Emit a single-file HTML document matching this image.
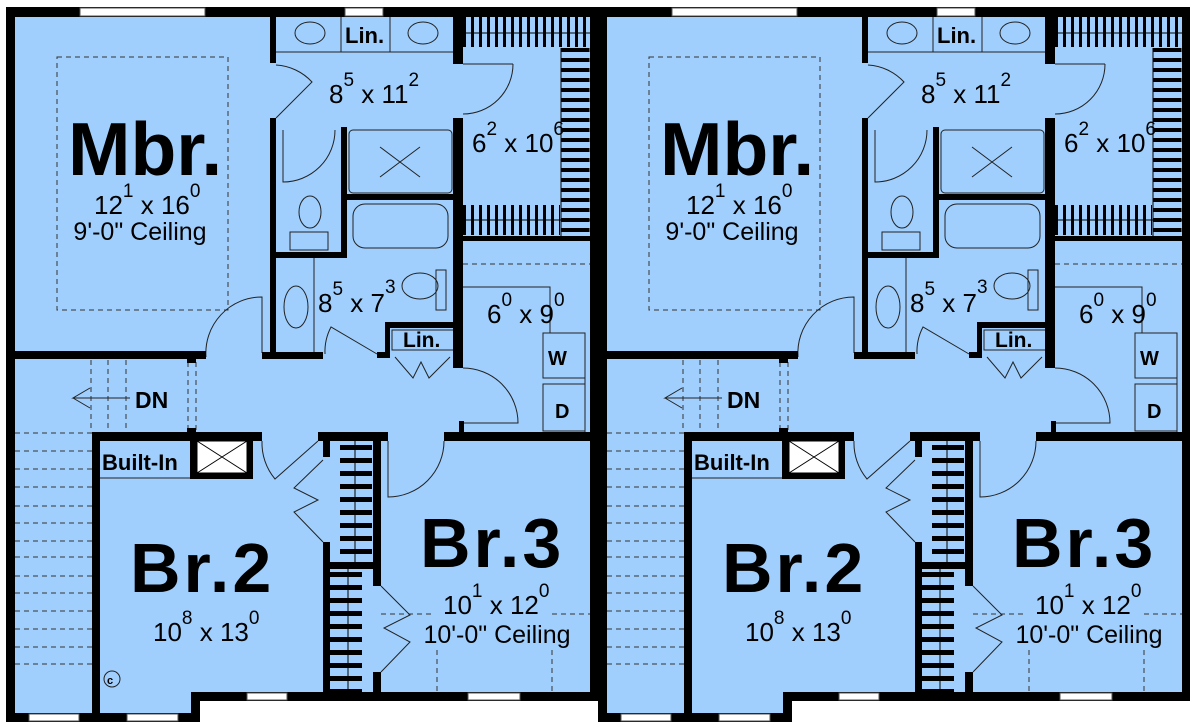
<!DOCTYPE html>
<html><head><meta charset="utf-8"><style>
html,body{margin:0;padding:0;background:#fff;}
svg{display:block;}
text{font-family:"Liberation Sans",Arial,sans-serif;fill:#000;}
.b{font-weight:bold;}
</style></head><body>
<svg width="1200" height="728" viewBox="0 0 1200 728" xmlns="http://www.w3.org/2000/svg">
<g>
<rect x="6" y="7" width="592" height="694" fill="#a0cffd"/>
<rect x="6" y="700" width="194" height="22" fill="#a0cffd"/>
<g stroke="#000">
<line x1="463" y1="32" x2="590" y2="32" stroke-width="30" stroke-dasharray="3 5"/>
<line x1="463" y1="220" x2="560" y2="220" stroke-width="30" stroke-dasharray="3 5"/>
<line x1="575" y1="48" x2="575" y2="236" stroke-width="29" stroke-dasharray="4 6"/>
<line x1="356" y1="445" x2="356" y2="560" stroke-width="32" stroke-dasharray="5 8"/>
<line x1="346" y1="572" x2="346" y2="692" stroke-width="32" stroke-dasharray="5 8"/>
</g>
<g stroke="#000" stroke-width="1" fill="none">
<line x1="463" y1="33" x2="590" y2="33"/><line x1="463" y1="220" x2="590" y2="220"/><line x1="561" y1="48" x2="561" y2="236"/>
<line x1="355" y1="441" x2="355" y2="562"/><line x1="348" y1="569" x2="348" y2="692"/>
</g>
<g stroke="#333" stroke-width="1" fill="none" stroke-dasharray="5 4">
<rect x="57" y="57" width="171" height="253"/>
<line x1="463" y1="264" x2="590" y2="264"/>
<line x1="381" y1="614" x2="432" y2="614"/><line x1="552" y1="614" x2="590" y2="614"/>
<line x1="437" y1="650" x2="437" y2="692"/><line x1="552" y1="650" x2="552" y2="692"/>
<line x1="188" y1="362" x2="188" y2="432"/><line x1="196" y1="362" x2="196" y2="432"/>
<line x1="91" y1="360" x2="91" y2="432"/><line x1="108" y1="360" x2="108" y2="432"/><line x1="126" y1="360" x2="126" y2="432"/>
<line x1="15" y1="433" x2="92" y2="433"/><line x1="15" y1="451" x2="92" y2="451"/><line x1="15" y1="469" x2="92" y2="469"/><line x1="15" y1="487" x2="92" y2="487"/><line x1="15" y1="506" x2="92" y2="506"/><line x1="15" y1="523" x2="92" y2="523"/><line x1="15" y1="541" x2="92" y2="541"/><line x1="15" y1="557" x2="92" y2="557"/><line x1="15" y1="576" x2="92" y2="576"/><line x1="15" y1="593" x2="92" y2="593"/><line x1="15" y1="611" x2="92" y2="611"/><line x1="15" y1="629" x2="92" y2="629"/><line x1="15" y1="647" x2="92" y2="647"/><line x1="15" y1="664" x2="92" y2="664"/>
</g>
<g stroke="#222" stroke-width="1" fill="none">
<line x1="276" y1="52" x2="453" y2="52"/><line x1="341" y1="17" x2="341" y2="52"/><line x1="390" y1="17" x2="390" y2="52"/>
<ellipse cx="310" cy="33" rx="15" ry="11"/><ellipse cx="423" cy="33" rx="15" ry="11"/>
<rect x="349" y="130" width="103" height="63" rx="4"/>
<line x1="380" y1="147" x2="420" y2="177"/><line x1="420" y1="147" x2="380" y2="177"/>
<rect x="353" y="204" width="95" height="44" rx="12"/>
<ellipse cx="310" cy="212" rx="11" ry="16"/><rect x="290" y="232" width="38" height="18"/>
<line x1="314" y1="258" x2="314" y2="353"/>
<ellipse cx="296" cy="307" rx="12" ry="21"/>
<ellipse cx="420" cy="286" rx="18" ry="13"/><rect x="436" y="270" width="10" height="40"/>
<rect x="392" y="330" width="63" height="20"/>
<line x1="100" y1="478" x2="190" y2="478"/>
<polyline points="463,287 550,287 550,333"/>
<rect x="543" y="333" width="42" height="45"/><rect x="543" y="384" width="42" height="47"/>
<line x1="585" y1="333" x2="585" y2="432"/>
<circle cx="112" cy="679" r="8"/>
<path d="M206,357 A56,56 0 0 1 262,297 L262,353"/>
<path d="M276,65 A53,53 0 0 1 312,82 L276,118"/>
<path d="M513,64 A50,50 0 0 1 463,114 M463,64 L513,64"/>
<path d="M283,130 L283,182 A52,52 0 0 0 335,130"/>
<path d="M325,354 A53,53 0 0 1 331,327 L377,354"/>
<polyline points="395,357 413,378 421,362 429,378 450,357"/>
<path d="M463,368 A55,55 0 0 1 518,423 L463,423"/>
<path d="M444,441 A56,56 0 0 1 388,497 L388,441"/>
<path d="M262,441 A56,56 0 0 0 275,479 L318,441"/>
<polyline points="323,460 294,488 318,500 294,512 323,542"/>
<polyline points="381,586 410,615 384,628 410,642 381,672"/>
<path d="M130,398 L73,398 L90,388 M73,398 L90,408"/>
</g>
<g fill="#000">
<rect x="6" y="7" width="592" height="10"/>
<rect x="6" y="7" width="9" height="715"/>
<rect x="6" y="713" width="194" height="9"/>
<rect x="191" y="692" width="9" height="30"/>
<rect x="191" y="692" width="407" height="9"/>
<rect x="590" y="7" width="8" height="694"/>
<rect x="15" y="351" width="191" height="8"/>
<rect x="187" y="359" width="9" height="4"/><rect x="187" y="428" width="9" height="5"/>
<rect x="270" y="17" width="6" height="46"/>
<rect x="270" y="118" width="6" height="239"/>
<rect x="262" y="352" width="61" height="7"/>
<rect x="341" y="127" width="6" height="131"/>
<rect x="270" y="252" width="77" height="6"/>
<rect x="346" y="194" width="107" height="6"/>
<rect x="453" y="17" width="10" height="47"/>
<rect x="453" y="118" width="10" height="250"/>
<rect x="463" y="236" width="135" height="5"/>
<rect x="385" y="322" width="5" height="36"/>
<rect x="385" y="322" width="73" height="6"/>
<rect x="377" y="352" width="13" height="6"/>
<rect x="459" y="421" width="5" height="15"/>
<rect x="93" y="432" width="169" height="9"/>
<rect x="318" y="432" width="70" height="9"/>
<rect x="444" y="432" width="154" height="9"/>
<rect x="92" y="432" width="8" height="290"/>
<rect x="190" y="434" width="63" height="45"/>
<rect x="323" y="432" width="7" height="25"/>
<rect x="323" y="542" width="7" height="158"/>
<rect x="373" y="432" width="8" height="154"/>
<rect x="373" y="672" width="8" height="28"/>
<rect x="330" y="562" width="43" height="7"/>
</g>
<rect x="197" y="441" width="50" height="32" fill="#fff" stroke="#000" stroke-width="1"/>
<path d="M197,441 L247,473 M247,441 L197,473" stroke="#000" stroke-width="1"/>
<g fill="#fff" stroke="#555" stroke-width="1">
<rect x="80" y="8" width="125" height="8"/><rect x="345" y="8" width="38" height="8"/>
<rect x="29" y="714" width="50" height="7"/><rect x="127" y="714" width="51" height="7"/>
<rect x="247" y="693" width="40" height="7"/><rect x="468" y="693" width="52" height="7"/>
</g>
<text x="68" y="175" class="b" font-size="75">Mbr.</text>
<text x="94" y="214" font-size="26">12<tspan dy="-17" font-size="19">1</tspan><tspan dy="17"> x 16</tspan><tspan dy="-17" font-size="19">0</tspan></text>
<text x="140" y="240" font-size="25" text-anchor="middle">9'-0" Ceiling</text>
<text x="345" y="43" font-size="22" class="b">Lin.</text>
<text x="329" y="103" font-size="26">8<tspan dy="-17" font-size="19">5</tspan><tspan dy="17"> x 11</tspan><tspan dy="-17" font-size="19">2</tspan></text>
<text x="472" y="152" font-size="26">6<tspan dy="-17" font-size="19">2</tspan><tspan dy="17"> x 10</tspan><tspan dy="-17" font-size="19">6</tspan></text>
<text x="318" y="312" font-size="26">8<tspan dy="-17" font-size="19">5</tspan><tspan dy="17"> x 7</tspan><tspan dy="-19" font-size="19">3</tspan></text>
<text x="403" y="347" font-size="21" class="b">Lin.</text>
<text x="487" y="323" font-size="26">6<tspan dy="-17" font-size="19">0</tspan><tspan dy="17"> x 9</tspan><tspan dy="-17" font-size="19">0</tspan></text>
<text x="548" y="365" font-size="20" class="b">W</text><text x="555" y="418" font-size="20" class="b">D</text>
<text x="135" y="408" font-size="23" class="b">DN</text>
<text x="102" y="470" font-size="22" class="b">Built-In</text>
<text x="107" y="684" font-size="11" class="b">c</text>
<text x="130" y="592" font-size="70" class="b" letter-spacing="3">Br.2</text>
<text x="153" y="641" font-size="26">10<tspan dy="-17" font-size="19">8</tspan><tspan dy="17"> x 13</tspan><tspan dy="-17" font-size="19">0</tspan></text>
<text x="420" y="567" font-size="70" class="b" letter-spacing="3">Br.3</text>
<text x="443" y="614" font-size="26">10<tspan dy="-17" font-size="19">1</tspan><tspan dy="17"> x 12</tspan><tspan dy="-17" font-size="19">0</tspan></text>
<text x="497" y="643" font-size="25" text-anchor="middle">10'-0" Ceiling</text>
</g>
<g transform="translate(592,0)">
<rect x="6" y="7" width="592" height="694" fill="#a0cffd"/>
<rect x="6" y="700" width="194" height="22" fill="#a0cffd"/>
<g stroke="#000">
<line x1="463" y1="32" x2="590" y2="32" stroke-width="30" stroke-dasharray="3 5"/>
<line x1="463" y1="220" x2="560" y2="220" stroke-width="30" stroke-dasharray="3 5"/>
<line x1="575" y1="48" x2="575" y2="236" stroke-width="29" stroke-dasharray="4 6"/>
<line x1="356" y1="445" x2="356" y2="560" stroke-width="32" stroke-dasharray="5 8"/>
<line x1="346" y1="572" x2="346" y2="692" stroke-width="32" stroke-dasharray="5 8"/>
</g>
<g stroke="#000" stroke-width="1" fill="none">
<line x1="463" y1="33" x2="590" y2="33"/><line x1="463" y1="220" x2="590" y2="220"/><line x1="561" y1="48" x2="561" y2="236"/>
<line x1="355" y1="441" x2="355" y2="562"/><line x1="348" y1="569" x2="348" y2="692"/>
</g>
<g stroke="#333" stroke-width="1" fill="none" stroke-dasharray="5 4">
<rect x="57" y="57" width="171" height="253"/>
<line x1="463" y1="264" x2="590" y2="264"/>
<line x1="381" y1="614" x2="432" y2="614"/><line x1="552" y1="614" x2="590" y2="614"/>
<line x1="437" y1="650" x2="437" y2="692"/><line x1="552" y1="650" x2="552" y2="692"/>
<line x1="188" y1="362" x2="188" y2="432"/><line x1="196" y1="362" x2="196" y2="432"/>
<line x1="91" y1="360" x2="91" y2="432"/><line x1="108" y1="360" x2="108" y2="432"/><line x1="126" y1="360" x2="126" y2="432"/>
<line x1="15" y1="433" x2="92" y2="433"/><line x1="15" y1="451" x2="92" y2="451"/><line x1="15" y1="469" x2="92" y2="469"/><line x1="15" y1="487" x2="92" y2="487"/><line x1="15" y1="506" x2="92" y2="506"/><line x1="15" y1="523" x2="92" y2="523"/><line x1="15" y1="541" x2="92" y2="541"/><line x1="15" y1="557" x2="92" y2="557"/><line x1="15" y1="576" x2="92" y2="576"/><line x1="15" y1="593" x2="92" y2="593"/><line x1="15" y1="611" x2="92" y2="611"/><line x1="15" y1="629" x2="92" y2="629"/><line x1="15" y1="647" x2="92" y2="647"/><line x1="15" y1="664" x2="92" y2="664"/>
</g>
<g stroke="#222" stroke-width="1" fill="none">
<line x1="276" y1="52" x2="453" y2="52"/><line x1="341" y1="17" x2="341" y2="52"/><line x1="390" y1="17" x2="390" y2="52"/>
<ellipse cx="310" cy="33" rx="15" ry="11"/><ellipse cx="423" cy="33" rx="15" ry="11"/>
<rect x="349" y="130" width="103" height="63" rx="4"/>
<line x1="380" y1="147" x2="420" y2="177"/><line x1="420" y1="147" x2="380" y2="177"/>
<rect x="353" y="204" width="95" height="44" rx="12"/>
<ellipse cx="310" cy="212" rx="11" ry="16"/><rect x="290" y="232" width="38" height="18"/>
<line x1="314" y1="258" x2="314" y2="353"/>
<ellipse cx="296" cy="307" rx="12" ry="21"/>
<ellipse cx="420" cy="286" rx="18" ry="13"/><rect x="436" y="270" width="10" height="40"/>
<rect x="392" y="330" width="63" height="20"/>
<line x1="100" y1="478" x2="190" y2="478"/>
<polyline points="463,287 550,287 550,333"/>
<rect x="543" y="333" width="42" height="45"/><rect x="543" y="384" width="42" height="47"/>
<line x1="585" y1="333" x2="585" y2="432"/>
<path d="M206,357 A56,56 0 0 1 262,297 L262,353"/>
<path d="M276,65 A53,53 0 0 1 312,82 L276,118"/>
<path d="M513,64 A50,50 0 0 1 463,114 M463,64 L513,64"/>
<path d="M283,130 L283,182 A52,52 0 0 0 335,130"/>
<path d="M325,354 A53,53 0 0 1 331,327 L377,354"/>
<polyline points="395,357 413,378 421,362 429,378 450,357"/>
<path d="M463,368 A55,55 0 0 1 518,423 L463,423"/>
<path d="M444,441 A56,56 0 0 1 388,497 L388,441"/>
<path d="M262,441 A56,56 0 0 0 275,479 L318,441"/>
<polyline points="323,460 294,488 318,500 294,512 323,542"/>
<polyline points="381,586 410,615 384,628 410,642 381,672"/>
<path d="M130,398 L73,398 L90,388 M73,398 L90,408"/>
</g>
<g fill="#000">
<rect x="6" y="7" width="592" height="10"/>
<rect x="6" y="7" width="9" height="715"/>
<rect x="6" y="713" width="194" height="9"/>
<rect x="191" y="692" width="9" height="30"/>
<rect x="191" y="692" width="407" height="9"/>
<rect x="590" y="7" width="8" height="694"/>
<rect x="15" y="351" width="191" height="8"/>
<rect x="187" y="359" width="9" height="4"/><rect x="187" y="428" width="9" height="5"/>
<rect x="270" y="17" width="6" height="46"/>
<rect x="270" y="118" width="6" height="239"/>
<rect x="262" y="352" width="61" height="7"/>
<rect x="341" y="127" width="6" height="131"/>
<rect x="270" y="252" width="77" height="6"/>
<rect x="346" y="194" width="107" height="6"/>
<rect x="453" y="17" width="10" height="47"/>
<rect x="453" y="118" width="10" height="250"/>
<rect x="463" y="236" width="135" height="5"/>
<rect x="385" y="322" width="5" height="36"/>
<rect x="385" y="322" width="73" height="6"/>
<rect x="377" y="352" width="13" height="6"/>
<rect x="459" y="421" width="5" height="15"/>
<rect x="93" y="432" width="169" height="9"/>
<rect x="318" y="432" width="70" height="9"/>
<rect x="444" y="432" width="154" height="9"/>
<rect x="92" y="432" width="8" height="290"/>
<rect x="190" y="434" width="63" height="45"/>
<rect x="323" y="432" width="7" height="25"/>
<rect x="323" y="542" width="7" height="158"/>
<rect x="373" y="432" width="8" height="154"/>
<rect x="373" y="672" width="8" height="28"/>
<rect x="330" y="562" width="43" height="7"/>
</g>
<rect x="197" y="441" width="50" height="32" fill="#fff" stroke="#000" stroke-width="1"/>
<path d="M197,441 L247,473 M247,441 L197,473" stroke="#000" stroke-width="1"/>
<g fill="#fff" stroke="#555" stroke-width="1">
<rect x="80" y="8" width="125" height="8"/><rect x="345" y="8" width="38" height="8"/>
<rect x="29" y="714" width="50" height="7"/><rect x="127" y="714" width="51" height="7"/>
<rect x="247" y="693" width="40" height="7"/><rect x="468" y="693" width="52" height="7"/>
</g>
<text x="68" y="175" class="b" font-size="75">Mbr.</text>
<text x="94" y="214" font-size="26">12<tspan dy="-17" font-size="19">1</tspan><tspan dy="17"> x 16</tspan><tspan dy="-17" font-size="19">0</tspan></text>
<text x="140" y="240" font-size="25" text-anchor="middle">9'-0" Ceiling</text>
<text x="345" y="43" font-size="22" class="b">Lin.</text>
<text x="329" y="103" font-size="26">8<tspan dy="-17" font-size="19">5</tspan><tspan dy="17"> x 11</tspan><tspan dy="-17" font-size="19">2</tspan></text>
<text x="472" y="152" font-size="26">6<tspan dy="-17" font-size="19">2</tspan><tspan dy="17"> x 10</tspan><tspan dy="-17" font-size="19">6</tspan></text>
<text x="318" y="312" font-size="26">8<tspan dy="-17" font-size="19">5</tspan><tspan dy="17"> x 7</tspan><tspan dy="-19" font-size="19">3</tspan></text>
<text x="403" y="347" font-size="21" class="b">Lin.</text>
<text x="487" y="323" font-size="26">6<tspan dy="-17" font-size="19">0</tspan><tspan dy="17"> x 9</tspan><tspan dy="-17" font-size="19">0</tspan></text>
<text x="548" y="365" font-size="20" class="b">W</text><text x="555" y="418" font-size="20" class="b">D</text>
<text x="135" y="408" font-size="23" class="b">DN</text>
<text x="102" y="470" font-size="22" class="b">Built-In</text>
<text x="130" y="592" font-size="70" class="b" letter-spacing="3">Br.2</text>
<text x="153" y="641" font-size="26">10<tspan dy="-17" font-size="19">8</tspan><tspan dy="17"> x 13</tspan><tspan dy="-17" font-size="19">0</tspan></text>
<text x="420" y="567" font-size="70" class="b" letter-spacing="3">Br.3</text>
<text x="443" y="614" font-size="26">10<tspan dy="-17" font-size="19">1</tspan><tspan dy="17"> x 12</tspan><tspan dy="-17" font-size="19">0</tspan></text>
<text x="497" y="643" font-size="25" text-anchor="middle">10'-0" Ceiling</text>
</g>
</svg>
</body></html>
